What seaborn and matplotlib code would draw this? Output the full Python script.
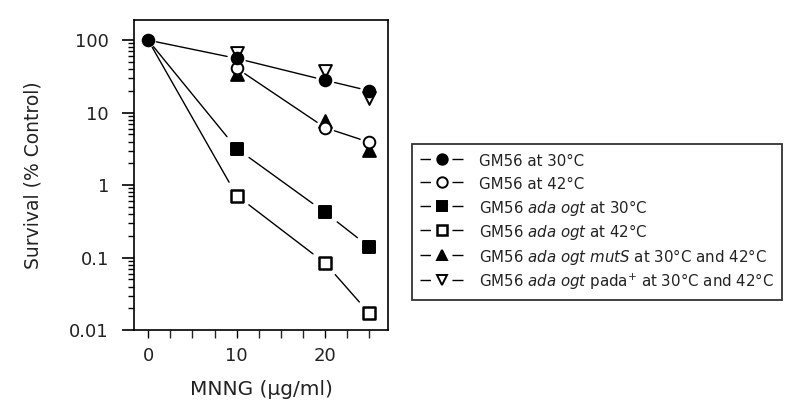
"""
Supervivencia frente a MNNG — réplica del gráfico de referencia.
Guarda out.png (800x419 px).
"""

import matplotlib
matplotlib.use("Agg")  # sin pantalla

import matplotlib.pyplot as plt
from matplotlib.lines import Line2D
from matplotlib.ticker import FixedLocator, FuncFormatter, LogLocator, NullFormatter
import numpy as np
import pandas as pd
import seaborn as sns

# ============================================================
# DATOS
# ============================================================
dose = [0, 10, 20, 25]
gm56_30 = [100, 56, 28, 20]
gm56_42 = [100, 41, 6.2, 3.9]
adaogt_30 = [100, 3.2, 0.42, 0.14]
adaogt_42 = [100, 0.72, 0.084, 0.017]
adaogt_muts = [np.nan, 34, 7.6, 3.1]
adaogt_pada = [np.nan, 66, 38, 16]

labels = [
    "GM56 at 30°C",
    "GM56 at 42°C",
    "GM56 $\\mathit{ada\\ ogt}$ at 30°C",
    "GM56 $\\mathit{ada\\ ogt}$ at 42°C",
    "GM56 $\\mathit{ada\\ ogt\\ mutS}$ at 30°C and 42°C",
    "GM56 $\\mathit{ada\\ ogt}$ pada$^{+}$ at 30°C and 42°C",
]

x_ticks = [0, 10, 20]
y_ticks = [0.01, 0.1, 1, 10, 100]

# ============================================================
# ESTILO
# ============================================================
sns.set_theme(style="ticks")
plt.rcParams["font.family"] = ["DejaVu Sans"]
plt.rcParams["axes.linewidth"] = 1.2
plt.rcParams["axes.edgecolor"] = "black"
TXT = "#222222"

# por serie (orden de la leyenda): valores, marcador, relleno, tamaño, grosor borde, recorte (pt)
series = [
    (gm56_30, "o", "black", 70, 1.4, 7),
    (gm56_42, "o", "white", 70, 1.4, 7),
    (adaogt_30, "s", "black", 70, 1.4, 11),
    (adaogt_42, "s", "white", 64, 1.8, 11),
    (adaogt_muts, "^", "black", 85, 1.4, None),
    (adaogt_pada, "v", "white", 85, 1.4, None),
]
# desde qué índice se dibujan los tramos de cada serie
line_start = {0: 0, 1: 1, 2: 0, 3: 0}
# el punto de dosis 0 sólo se ve con el círculo relleno
marker_start = [0, 1, 1, 1, 1, 1]
draw_order = [4, 5, 2, 3, 1, 0]

fig, ax = plt.subplots(figsize=(8, 4.19), dpi=100)
fig.subplots_adjust(left=0.1675, right=0.485, bottom=0.212, top=0.952)

ax.set_yscale("log")
ax.set_xlim(-1.6, 27.1)
ax.set_ylim(0.01, 189)

# tramos entre puntos, recortados cerca de los marcadores
for idx, start in line_start.items():
    vals = series[idx][0]
    shrink = series[idx][5]
    for i in range(start, len(dose) - 1):
        sA = 6 if i == 0 else shrink
        ax.annotate("", xy=(dose[i + 1], vals[i + 1]), xytext=(dose[i], vals[i]),
                    arrowprops={"arrowstyle": "-", "color": "black", "lw": 1.0,
                                "shrinkA": sA, "shrinkB": shrink})

# marcadores
for idx in draw_order:
    vals, mk, face, size, lw, _ = series[idx]
    k = marker_start[idx]
    df = pd.DataFrame({"dose": dose[k:], "surv": vals[k:]}).dropna()
    sns.scatterplot(data=df, x="dose", y="surv", marker=mk, s=size, color=face,
                    edgecolor="black", linewidth=lw, ax=ax, zorder=3, legend=False)

# ejes
ax.xaxis.set_major_locator(FixedLocator(x_ticks))
ax.xaxis.set_minor_locator(FixedLocator(np.arange(0, 26, 2.5)))
ax.yaxis.set_major_locator(FixedLocator(y_ticks))
ax.yaxis.set_minor_locator(LogLocator(base=10, subs=np.arange(2, 10)))
ax.yaxis.set_minor_formatter(NullFormatter())
ax.yaxis.set_major_formatter(FuncFormatter(lambda v, p: f"{v:g}"))
ax.tick_params(axis="both", which="major", labelsize=13, width=1.2, color="black",
               labelcolor=TXT)
ax.tick_params(axis="x", which="both", length=6, width=1.0)
ax.tick_params(axis="x", which="major", pad=6)
ax.tick_params(axis="y", which="major", length=9, pad=9)
ax.tick_params(axis="y", which="minor", length=4, width=1.0, color="black")

ax.set_xlabel("MNNG (μg/ml)", fontsize=14.5, color=TXT, labelpad=11)
ax.set_ylabel("Survival (% Control)", fontsize=13.5, color=TXT, labelpad=19)

# leyenda fuera del eje: "—●—" con hueco alrededor del marcador
handles = [
    Line2D([], [], color="black", lw=1.0, dashes=(7.5, 15.5, 8.0, 200),
           marker=mk, markersize=7.5, markerfacecolor=face,
           markeredgecolor="black", markeredgewidth=lw)
    for _, mk, face, _, lw, _ in series
]

leg = fig.legend(handles, labels, loc="upper left", bbox_to_anchor=(0.515, 0.656),
                 fontsize=10.8, frameon=True, fancybox=False, edgecolor="black",
                 handlelength=2.85, handleheight=1.5, handletextpad=1.05,
                 labelspacing=0.3, borderpad=0.55, borderaxespad=0)
leg.get_frame().set_linewidth(1.3)
for t in leg.get_texts():
    t.set_color(TXT)

fig.savefig("out.png", dpi=100)
plt.close(fig)
